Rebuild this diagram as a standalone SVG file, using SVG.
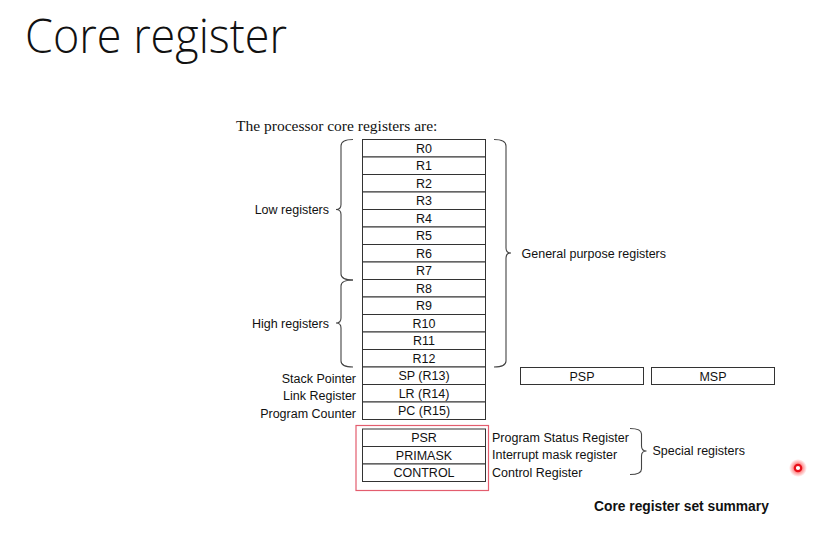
<svg xmlns="http://www.w3.org/2000/svg" width="840" height="538" viewBox="0 0 840 538">
<defs>
<style>
.box{fill:#fff;stroke:#333;stroke-width:1}
.rl{font-family:"Liberation Sans",Arial,sans-serif;font-size:12.5px;fill:#111;text-anchor:middle}
.lab{font-family:"Liberation Sans",Arial,sans-serif;font-size:12.5px;fill:#111}
.lr{text-anchor:end}
.brace{fill:none;stroke:#444;stroke-width:1.1}
</style>
<radialGradient id="glow"><stop offset="0.4" stop-color="#ff2020" stop-opacity="0.6"/><stop offset="1" stop-color="#ff2020" stop-opacity="0"/></radialGradient>
</defs>
<rect width="840" height="538" fill="#fff"/>
<text x="25" y="53" font-family="'Open Sans',Lato,sans-serif" font-weight="300" font-size="47" fill="#111" textLength="262" lengthAdjust="spacingAndGlyphs">Core register</text>
<text x="236" y="131" font-family="'Liberation Serif','Times New Roman',serif" font-size="15.5" fill="#111">The processor core registers are:</text>

<g id="R0"><rect class="box" x="362.5" y="139.5" width="123" height="17.5"/><text class="rl" x="424" y="152.7">R0</text></g>
<g id="R1"><rect class="box" x="362.5" y="157" width="123" height="17.5"/><text class="rl" x="424" y="170.2">R1</text></g>
<g id="R2"><rect class="box" x="362.5" y="174.5" width="123" height="17.5"/><text class="rl" x="424" y="187.7">R2</text></g>
<g id="R3"><rect class="box" x="362.5" y="192" width="123" height="17.5"/><text class="rl" x="424" y="205.2">R3</text></g>
<g id="R4"><rect class="box" x="362.5" y="209.5" width="123" height="17.5"/><text class="rl" x="424" y="222.7">R4</text></g>
<g id="R5"><rect class="box" x="362.5" y="227" width="123" height="17.5"/><text class="rl" x="424" y="240.2">R5</text></g>
<g id="R6"><rect class="box" x="362.5" y="244.5" width="123" height="17.5"/><text class="rl" x="424" y="257.7">R6</text></g>
<g id="R7"><rect class="box" x="362.5" y="262" width="123" height="17.5"/><text class="rl" x="424" y="275.2">R7</text></g>
<g id="R8"><rect class="box" x="362.5" y="279.5" width="123" height="17.5"/><text class="rl" x="424" y="292.7">R8</text></g>
<g id="R9"><rect class="box" x="362.5" y="297" width="123" height="17.5"/><text class="rl" x="424" y="310.2">R9</text></g>
<g id="R10"><rect class="box" x="362.5" y="314.5" width="123" height="17.5"/><text class="rl" x="424" y="327.7">R10</text></g>
<g id="R11"><rect class="box" x="362.5" y="332" width="123" height="17.5"/><text class="rl" x="424" y="345.2">R11</text></g>
<g id="R12"><rect class="box" x="362.5" y="349.5" width="123" height="17.5"/><text class="rl" x="424" y="362.7">R12</text></g>
<g id="SP"><rect class="box" x="362.5" y="367" width="123" height="17.5"/><text class="rl" x="424" y="380.2">SP (R13)</text><text class="lab lr" x="356" y="382.5">Stack Pointer</text></g>
<g id="LR"><rect class="box" x="362.5" y="384.5" width="123" height="17.5"/><text class="rl" x="424" y="397.7">LR (R14)</text><text class="lab lr" x="356" y="400">Link Register</text></g>
<g id="PC"><rect class="box" x="362.5" y="402" width="123" height="17.5"/><text class="rl" x="424" y="415.2">PC (R15)</text><text class="lab lr" x="356" y="417.5">Program Counter</text></g>

<g id="PSP"><rect class="box" x="520.5" y="367.5" width="123" height="17"/><text class="rl" x="582" y="380.5">PSP</text></g>
<g id="MSP"><rect class="box" x="651.5" y="367.5" width="123" height="17"/><text class="rl" x="713" y="380.5">MSP</text></g>

<g id="special-frame"><rect x="356" y="425.5" width="132.5" height="65" fill="none" stroke="#e35d6e" stroke-width="1.2"/></g>
<g id="PSR"><rect class="box" x="362.5" y="429" width="123" height="17.5"/><text class="rl" x="424" y="442.2">PSR</text><text class="lab" x="492" y="441.5">Program Status Register</text></g>
<g id="PRIMASK"><rect class="box" x="362.5" y="446.5" width="123" height="17.5"/><text class="rl" x="424" y="459.7">PRIMASK</text><text class="lab" x="492" y="459">Interrupt mask register</text></g>
<g id="CONTROL"><rect class="box" x="362.5" y="464" width="123" height="17.5"/><text class="rl" x="424" y="477.2">CONTROL</text><text class="lab" x="492" y="476.5">Control Register</text></g>

<g id="braces">
<path class="brace" d="M494,139.5 Q506,139.5 506,146 L506,248 Q506,253 511,253 Q506,253 506,258 L506,361 Q506,367 494,367"/>
<path class="brace" d="M353,139.5 Q341,139.5 341,146 L341,204.5 Q341,209.5 336,209.5 Q341,209.5 341,214.5 L341,274 Q341,280 353,280"/>
<path class="brace" d="M353,280 Q341,280 341,286 L341,318 Q341,323 336,323 Q341,323 341,328 L341,361 Q341,367 353,367"/>
<path class="brace" d="M630,428.5 Q641.5,428.5 641.5,434 L641.5,446 Q641.5,451 646.5,451 Q641.5,451 641.5,456 L641.5,469 Q641.5,474.5 630,474.5"/>
</g>

<g id="labels">
<text class="lab lr" x="329" y="213.5">Low registers</text>
<text class="lab lr" x="329" y="327.5">High registers</text>
<text class="lab" x="521.5" y="257.5">General purpose registers</text>
<text class="lab" x="652.5" y="455">Special registers</text>
<text x="594" y="511" font-family="'Liberation Sans',Arial,sans-serif" font-weight="bold" font-size="13.8" fill="#111">Core register set summary</text>
</g>

<g id="cursor">
<circle cx="798" cy="468" r="9" fill="url(#glow)"/>
<circle cx="798" cy="468" r="3.2" fill="#fff" stroke="#e8101a" stroke-width="2.2"/>
</g>
</svg>
